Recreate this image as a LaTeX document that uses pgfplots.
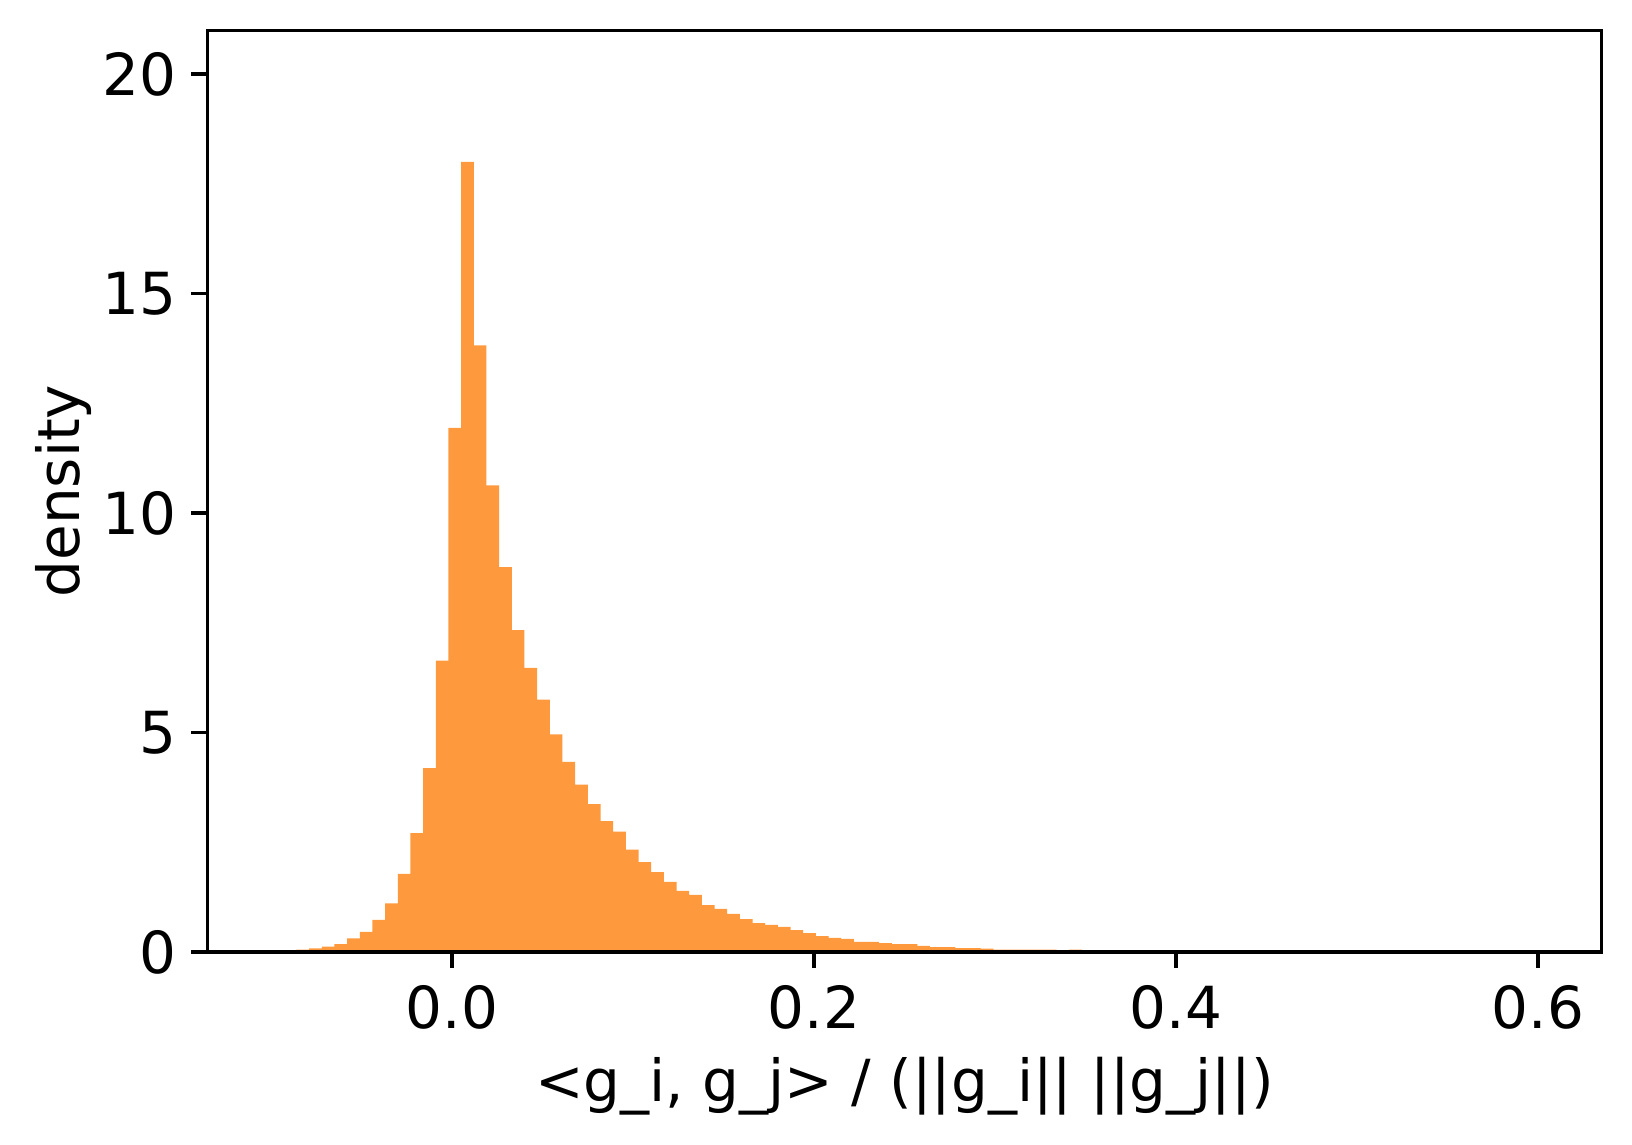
\documentclass[border=0pt]{standalone}
\usepackage{fontspec}
\setmainfont{DejaVu Sans}
\usepackage{pgfplots}
\pgfplotsset{compat=1.18}
\usetikzlibrary{calc}
\definecolor{barorange}{RGB}{255,153,62}
\begin{document}
\begin{tikzpicture}
\begin{axis}[
  name=ax,
  scale only axis,
  width=348.6pt, height=230.45pt,
  xmin=-0.1353, xmax=0.6351, ymin=0, ymax=21.0,
  axis on top,
  axis line style={line width=0.8pt, black},
  tick style={line width=0.8pt, black},
  tick align=outside,
  major tick length=4pt,
  xtick pos=bottom, ytick pos=left,
  xtick={0,0.2,0.4,0.6}, xticklabels={0.0,0.2,0.4,0.6},
  ytick={0,5,10,15,20}, yticklabels={0,5,10,15,20},
  ticklabel style={font=\fontsize{14.5pt}{17pt}\selectfont},
  xticklabel style={inner sep=0pt, anchor=north, yshift=-4.25pt},
  yticklabel style={inner sep=0pt, anchor=east, xshift=-3.5pt},
  label style={font=\fontsize{14.5pt}{17pt}\selectfont},
  xlabel={<g\_i, g\_j> / (||g\_i|| ||g\_j||)},
  ylabel={density},
  xlabel style={at={(axis description cs:0.5,-0.1454)}, anchor=center, inner sep=0pt},
  ylabel style={at={(axis description cs:-0.1030,0.5)}, anchor=center, inner sep=0pt},
]
\addplot[ybar interval, fill=barorange, draw=none] table[row sep=\\] {
x y\\
-0.100 0.005\\
-0.093 0.015\\
-0.086 0.055\\
-0.079 0.08\\
-0.072 0.12\\
-0.065 0.18\\
-0.058 0.31\\
-0.051 0.46\\
-0.044 0.73\\
-0.037 1.11\\
-0.030 1.78\\
-0.023 2.71\\
-0.016 4.19\\
-0.009 6.64\\
-0.002 11.94\\
0.005 18.0\\
0.012 13.82\\
0.019 10.63\\
0.026 8.77\\
0.033 7.33\\
0.040 6.47\\
0.047 5.75\\
0.054 4.96\\
0.061 4.33\\
0.068 3.81\\
0.075 3.37\\
0.082 2.98\\
0.089 2.74\\
0.096 2.33\\
0.103 2.05\\
0.110 1.82\\
0.117 1.60\\
0.124 1.39\\
0.131 1.30\\
0.138 1.07\\
0.145 0.98\\
0.152 0.87\\
0.159 0.75\\
0.166 0.66\\
0.173 0.62\\
0.180 0.57\\
0.187 0.50\\
0.194 0.43\\
0.201 0.36\\
0.208 0.32\\
0.215 0.30\\
0.222 0.23\\
0.229 0.23\\
0.236 0.20\\
0.243 0.18\\
0.250 0.18\\
0.257 0.14\\
0.264 0.11\\
0.271 0.11\\
0.278 0.09\\
0.285 0.09\\
0.292 0.075\\
0.299 0.055\\
0.306 0.055\\
0.313 0.055\\
0.320 0.055\\
0.327 0.055\\
0.334 0.03\\
0.341 0.055\\
0.348 0.02\\
0.355 0.015\\
0.362 0.015\\
0.369 0.012\\
0.376 0.012\\
0.383 0.01\\
0.390 0.01\\
0.397 0.008\\
0.404 0.008\\
0.411 0.006\\
0.418 0.006\\
0.425 0.005\\
0.432 0.004\\
0.439 0.004\\
0.446 0.003\\
0.453 0.003\\
0.460 0.003\\
0.467 0.002\\
0.474 0.002\\
0.481 0.002\\
0.488 0.002\\
0.495 0.002\\
0.502 0.001\\
0.509 0.001\\
0.516 0.001\\
0.523 0.001\\
0.530 0.001\\
0.537 0.001\\
0.544 0.001\\
0.551 0.001\\
0.558 0.001\\
0.565 0.001\\
0.572 0.001\\
0.579 0.001\\
0.586 0.001\\
0.593 0.001\\
0.600 0\\
};
\end{axis}
\pgfresetboundingbox
\useasboundingbox ($(ax.south west)+(-51.8pt,-48.25pt)$) rectangle ($(ax.south west)+(356.2pt,238pt)$);
\end{tikzpicture}
\end{document}
